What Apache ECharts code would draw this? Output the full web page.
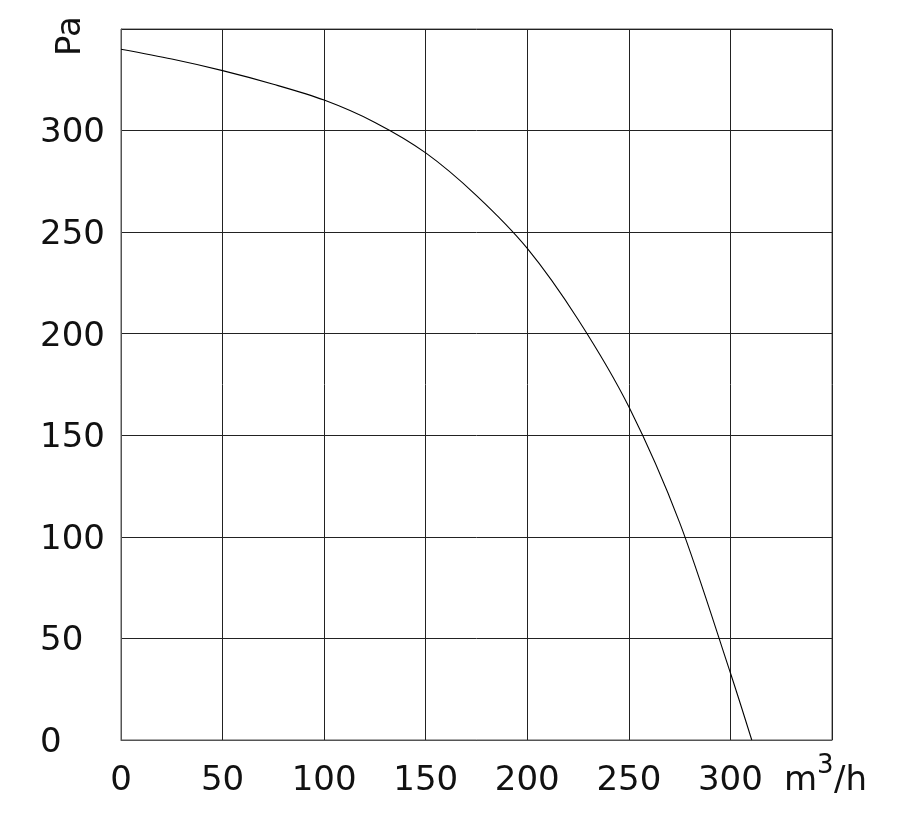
<!DOCTYPE html>
<html>
<head>
<meta charset="utf-8">
<script src="https://cdn.jsdelivr.net/npm/echarts@6/dist/echarts.min.js"></script>
<style>
  html, body { margin: 0; padding: 0; background: #fff; }
  #chart { width: 917px; height: 816px; }
</style>
</head>
<body>
<div id="chart"></div>
<script>
// Fan curve: airflow (m3/h) vs static pressure (Pa)
const airflow = [0, 25, 50, 75, 100, 125, 150, 175, 200, 225, 250, 275, 300, 310.5];
const pressure = [340, 335.2, 329.5, 322.8, 315, 304, 289, 268, 242, 207, 164, 107, 33, 0];

const xTicks = [0, 50, 100, 150, 200, 250, 300, 350];
const yTicks = [0, 50, 100, 150, 200, 250, 300, 350];

const curveData = airflow.map((x, i) => [x, pressure[i]]);

const chart = echarts.init(document.getElementById("chart"));

const labelFont = "DejaVu Sans";
const textColor = "#111";

const option = {
    animation: false,
    grid: {
        left: 121,
        right: 85,
        top: 29,
        bottom: 76,
        show: true,
        borderColor: "#555",
        borderWidth: 1,
    },
    xAxis: {
        type: "value",
        min: xTicks[0],
        max: xTicks[xTicks.length - 1],
        interval: 50,
        axisLine: { show: true, lineStyle: { color: "#555", width: 1 } },
        axisTick: { show: false },
        splitLine: { show: true, lineStyle: { color: "#222", width: 1 } },
        axisLabel: {
            margin: 24,
            fontFamily: labelFont,
            fontSize: 34,
            color: textColor,
            // the last tick carries the unit instead, drawn below
            formatter: (v) => (v === 350 ? "" : String(v)),
        },
    },
    yAxis: {
        type: "value",
        min: yTicks[0],
        max: yTicks[yTicks.length - 1],
        interval: 50,
        axisLine: { show: true, lineStyle: { color: "#555", width: 1 } },
        axisTick: { show: false },
        splitLine: { show: true, lineStyle: { color: "#222", width: 1 } },
        axisLabel: {
            margin: 81,
            align: "left",
            formatter: (v) => (v === 350 ? "" : "{v|" + v + "}"),
            rich: {
                v: { fontFamily: labelFont, fontSize: 34, color: textColor, padding: [6, 0, 0, 0] },
            },
        },
    },
    series: [
        {
            type: "line",
            data: curveData,
            smooth: 0.3,
            showSymbol: false,
            lineStyle: { color: "#000", width: 1.1 },
        },
    ],
};

chart.setOption(option);

// Unit labels: "Pa" rotated above the value axis, "m³/h" at the end of the flow axis
const yTop = chart.convertToPixel({ gridIndex: 0 }, [0, 350]);
const xEnd = chart.convertToPixel({ gridIndex: 0 }, [350, 0]);
const unitStyle = { fontFamily: labelFont, fontSize: 34, fill: textColor, verticalAlign: "middle" };

chart.setOption({
    graphic: [
        {
            type: "text",
            x: 71,
            y: yTop[1] + 7,
            rotation: Math.PI / 2,
            style: Object.assign({}, unitStyle, { text: "Pa", align: "center" }),
        },
        {
            type: "text",
            x: xEnd[0] - 15,
            y: xEnd[1] + 41,
            style: Object.assign({}, unitStyle, { text: "m", align: "right" }),
        },
        {
            type: "text",
            x: xEnd[0] - 15,
            y: xEnd[1] + 26,
            style: Object.assign({}, unitStyle, { text: "3", align: "left", fontSize: 26 }),
        },
        {
            type: "text",
            x: xEnd[0] + 2,
            y: xEnd[1] + 41,
            style: Object.assign({}, unitStyle, { text: "/h", align: "left" }),
        },
    ],
});
</script>
</body>
</html>
